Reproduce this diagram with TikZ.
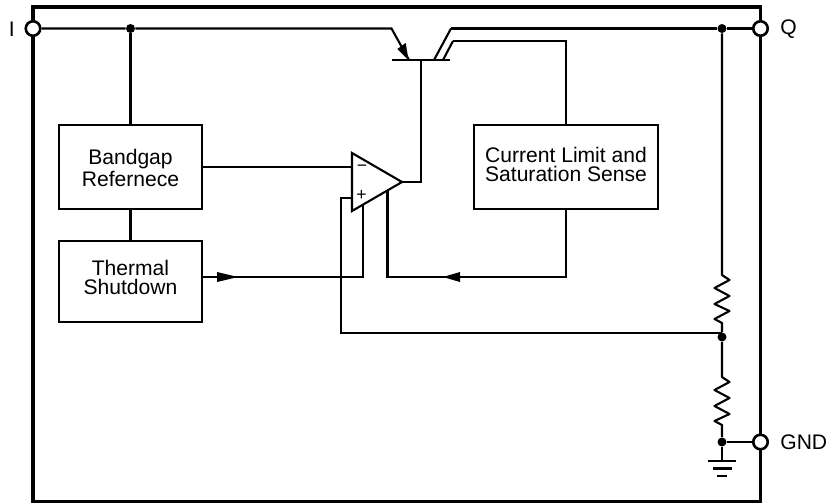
\documentclass[tikz,border=0pt]{standalone}
\usepackage{fontspec}
\setmainfont{Liberation Sans}
\tikzset{
  wire/.style={black, line width=1.2pt},
  frame/.style={black, line width=1.9pt},
  blockbox/.style={draw=black, line width=1.2pt, minimum width=2.86cm, inner sep=0pt},
  blocktext/.style={inner sep=0pt, align=center, font=\fontsize{12}{10.8}\selectfont},
  terminal/.style={circle, draw=black, fill=white, line width=1.5pt, minimum size=0.29cm, inner sep=0pt},
  junction/.style={circle, fill=black, minimum size=0.18cm, inner sep=0pt},
  pinlabel/.style={inner sep=0pt, font=\fontsize{12}{13}\selectfont},
  signlabel/.style={inner sep=0pt, font=\fontsize{10}{11}\selectfont}
}
\begin{document}
\begin{tikzpicture}[x=0.02cm, y=0.02cm]
  \useasboundingbox (0,0) rectangle (829,-504);
  % outer frame and pins
  \draw [frame] (33,-7) rectangle (760.5,-501.5);
  \node [terminal] (I) at (33,-28.5) {};
  \node [terminal] (Q) at (760.5,-28.5) {};
  \node [terminal] (GND) at (760.5,-442) {};
  \node [pinlabel, anchor=east] (Ilabel) at (15,-29) {I};
  \node [pinlabel, anchor=west] (Qlabel) at (780,-29) {Q};
  \node [pinlabel, anchor=west] (GNDlabel) at (780,-442) {GND};
  % blocks
  \node [blockbox, minimum height=1.68cm] (bandgap) at (130.5,-167) {};
  \node [blockbox, minimum height=1.62cm] (thermal) at (130.5,-281.5) {};
  \node [blockbox, minimum width=3.68cm, minimum height=1.68cm] (sense) at (566,-167) {};
  \node [blocktext] (bandgapText) at (130.5,-168) {Bandgap\\Refernece};
  \node [blocktext] (thermalText) at (130.5,-277.5) {Thermal\\Shutdown};
  \node [blocktext] (senseText) at (566,-164) {Current Limit and\\Saturation Sense};
  % amplifier
  \coordinate (opTop) at (352,-153);
  \coordinate (opBot) at (352,-211);
  \coordinate (opOut) at (402,-182);
  \draw [wire, line join=miter] (opTop) -- (opOut) -- (opBot) -- cycle;
  \node [signlabel] (minus) at (362,-168.5) {−};
  \node [signlabel] (plus) at (361.5,-195) {+};
  % transistor
  \coordinate (emTop) at (391.5,-28.5);
  \coordinate (emBase) at (409,-60);
  \coordinate (colTop) at (451,-28.5);
  \coordinate (colBase) at (434,-60);
  \coordinate (senseTop) at (453,-41);
  \coordinate (senseBase) at (443,-60);
  \coordinate (baseL) at (392,-60);
  \coordinate (baseR) at (450,-60);
  \coordinate (baseMid) at (421,-60);
  \draw [wire] (baseL) -- (baseR);
  \draw [wire] (colBase) -- (colTop);
  \draw [wire] (senseBase) -- (senseTop);
  \fill [black] (408.5,-60) -- (397.3,-49) -- (405.7,-43);
  % junctions
  \node [junction] (topDot) at (130.5,-28.5) {};
  \node [junction] (rightDot) at (722,-28.5) {};
  \node [junction] (midDot) at (722,-337) {};
  \node [junction] (gndDot) at (722,-442) {};
  % top rail
  \draw [wire] (I) -- (topDot) -- (emTop) -- (emBase);
  \draw [wire] (colTop) -- (rightDot) -- (Q);
  \draw [wire] (topDot) -- (bandgap.north);
  \draw [wire] (bandgap.south) -- (thermal.north);
  \draw [wire] (bandgap.east) -- (352,-167);
  \draw [wire] (baseMid) -- (421,-182) -- (opOut);
  \draw [wire] (senseTop) -- (566,-41) -- (sense.north);
  % thermal and sense feedback
  \coordinate (thermalOut) at (202,-277);
  \coordinate (senseOut) at (566,-209);
  \draw [wire] (thermalOut) -- (363,-277) -- (363,-205);
  \fill [black] (238,-277) -- (217,-272) -- (217,-282);
  \draw [wire] (senseOut) -- (566,-277) -- (387.5,-277) -- (387.5,-191);
  \fill [black] (443,-277) -- (460,-272) -- (460,-282);
  % divider
  \draw [wire, line join=round] (rightDot) -- (722,-275) -- ++(7.5,-5) -- ++(-15,-8) -- ++(15,-8) -- ++(-15,-8) -- ++(15,-7) -- ++(-15,-8) -- (722,-323) -- (midDot);
  \draw [wire, line join=round] (midDot) -- (722,-377) -- ++(7.5,-5) -- ++(-15,-8) -- ++(15,-8) -- ++(-15,-8) -- ++(15,-8) -- ++(-15,-7) -- (722,-425) -- (gndDot);
  \draw [wire] (352,-198) -- (341,-198) -- (341,-333) -- (722,-333);
  \draw [wire] (gndDot) -- (GND);
  % ground
  \draw [wire] (gndDot) -- (722,-461);
  \draw [wire] (707.5,-461) -- (736,-461);
  \draw [wire] (713,-468.5) -- (732,-468.5);
  \draw [wire] (717,-476) -- (727,-476);
\end{tikzpicture}
\end{document}
